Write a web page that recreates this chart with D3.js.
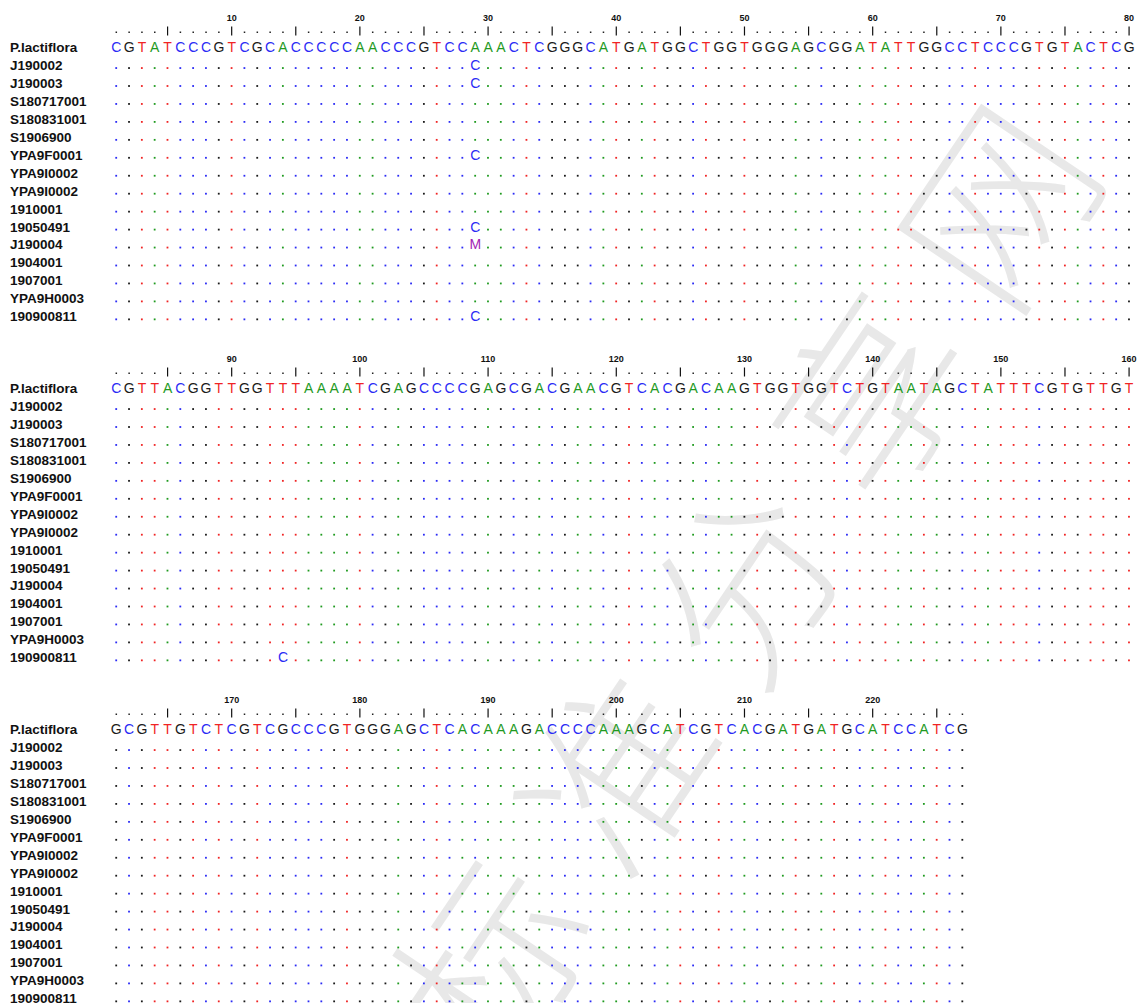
<!DOCTYPE html>
<html>
<head>
<meta charset="utf-8">
<script src="https://cdn.jsdelivr.net/npm/d3@7"></script>
<style>
  body { margin: 0; background: #ffffff; }
  svg { display: block; }
</style>
</head>
<body>
<svg id="chart" width="1137" height="1003"></svg>
<script>
// Sample names, top to bottom; the first row holds the reference sequence.
const sampleNames = [
  "P.lactiflora", "J190002", "J190003", "S180717001", "S180831001", "S1906900",
  "YPA9F0001", "YPA9I0002", "YPA9I0002", "1910001", "19050491", "J190004",
  "1904001", "1907001", "YPA9H0003", "190900811"
];

// Reference sequence (227 bp).
const referenceSeq =
  "CGTATCCCGTCGCACCCCCAACCCGTCCAAACTCGGGCATGATGGCTGGTGGGAGCGGATATTGGCCTCCCGTGTACTCG" +
  "CGTTACGGTTGGTTTAAAATCGAGCCCCGAGCGACGAACGTCACGACAAGTGGTGGTCTGTAATAGCTATTTCGTGTTGT" +
  "GCGTTGTCTCGTCGCCCGTGGGAGCTCACAAAGACCCCAAAGCATCGTCACGATGATGCATCCATCG";

// Sites that differ from the reference: row index, alignment position, base.
const variantRows      = [1, 2, 6, 10, 11, 15, 15];
const variantPositions = [29, 29, 29, 29, 29, 29, 94];
const variantBases     = ["C", "C", "C", "C", "M", "C", "C"];

// Ruler labelling.
const columnsPerBlock = 80;
const majorTickStep = 10;
const minorTickStep = 5;

// Watermark text.
const watermarkText = "标准分享网";

const baseColors = { A: "#1f9a1f", C: "#2b2bf5", G: "#1a1a1a", T: "#f02424", M: "#a424b4" };

const variantMap = new Map();
variantRows.forEach((r, i) => variantMap.set(r + ":" + variantPositions[i], variantBases[i]));

const svg = d3.select("#chart");
const W = 1137, H = 1003;
svg.append("rect").attr("width", W).attr("height", H).attr("fill", "#ffffff");

// Watermark behind the alignment.
const wm = svg.append("g").attr("transform", "translate(748,560) rotate(-56)");
wm.append("text")
  .attr("text-anchor", "middle")
  .attr("dominant-baseline", "central")
  .attr("font-family", "'Noto Sans CJK SC', sans-serif")
  .attr("font-weight", 300)
  .attr("font-size", 185)
  .attr("letter-spacing", 42)
  .attr("fill", "#e8e8e8")
  .text(watermarkText);

// Scales.
const colX = d3.scaleLinear().domain([1, columnsPerBlock]).range([116.3, 116.3 + 79 * 12.82]);
const rowY = d3.scaleLinear().domain([0, sampleNames.length - 1]).range([0, 15 * 17.95]);
const nBlocks = Math.ceil(referenceSeq.length / columnsPerBlock);
const blockBase = d3.scaleLinear().domain([0, 1]).range([52, 393]);

const font = "Arial, 'Liberation Sans', Helvetica, sans-serif";

d3.range(nBlocks).forEach(b => {
  const start = b * columnsPerBlock;
  const end = Math.min(start + columnsPerBlock, referenceSeq.length);
  const positions = d3.range(start + 1, end + 1);
  const base0 = blockBase(b);
  const g = svg.append("g");

  // Ruler: numbers every 10, bars every 5, dots elsewhere.
  const ruler = g.append("g");
  ruler.selectAll("text.num")
    .data(positions.filter(p => p % majorTickStep === 0))
    .join("text")
    .attr("x", p => colX(p - start))
    .attr("y", base0 - 31)
    .attr("text-anchor", "middle")
    .attr("font-family", font)
    .attr("font-weight", "bold")
    .attr("font-size", 9)
    .attr("fill", "#111")
    .text(p => p);
  ruler.selectAll("line.bar")
    .data(positions.filter(p => p % minorTickStep === 0))
    .join("line")
    .attr("x1", p => colX(p - start)).attr("x2", p => colX(p - start))
    .attr("y1", base0 - 25.5).attr("y2", base0 - 16.5)
    .attr("stroke", "#111").attr("stroke-width", 1.2);
  ruler.selectAll("rect.dot")
    .data(positions.filter(p => p % minorTickStep !== 0))
    .join("rect")
    .attr("x", p => colX(p - start) - 0.75)
    .attr("y", base0 - 20.5)
    .attr("width", 1.5).attr("height", 1.5)
    .attr("fill", "#222");

  // Row labels.
  g.selectAll("text.label")
    .data(sampleNames)
    .join("text")
    .attr("x", 10)
    .attr("y", (d, i) => base0 + rowY(i))
    .attr("font-family", font)
    .attr("font-weight", "bold")
    .attr("font-size", 13.5)
    .attr("fill", "#111")
    .text(d => d);

  // Reference sequence letters.
  g.selectAll("text.ref")
    .data(positions)
    .join("text")
    .attr("x", p => colX(p - start))
    .attr("y", base0)
    .attr("text-anchor", "middle")
    .attr("font-family", font)
    .attr("font-size", 14)
    .attr("fill", p => baseColors[referenceSeq[p - 1]])
    .text(p => referenceSeq[p - 1]);

  // Other rows: dots where identical, letters where different.
  d3.range(1, sampleNames.length).forEach(r => {
    const y = base0 + rowY(r);
    const cells = positions.map(p => ({ p, v: variantMap.get(r + ":" + p) }));
    g.selectAll(null)
      .data(cells.filter(c => !c.v))
      .join("rect")
      .attr("x", c => colX(c.p - start) - 1)
      .attr("y", y - 2.8)
      .attr("width", 1.8).attr("height", 1.8)
      .attr("fill", c => baseColors[referenceSeq[c.p - 1]]);
    g.selectAll(null)
      .data(cells.filter(c => c.v))
      .join("text")
      .attr("x", c => colX(c.p - start))
      .attr("y", y)
      .attr("text-anchor", "middle")
      .attr("font-family", font)
      .attr("font-size", 14)
      .attr("fill", c => baseColors[c.v])
      .text(c => c.v);
  });
});
</script>
</body>
</html>
